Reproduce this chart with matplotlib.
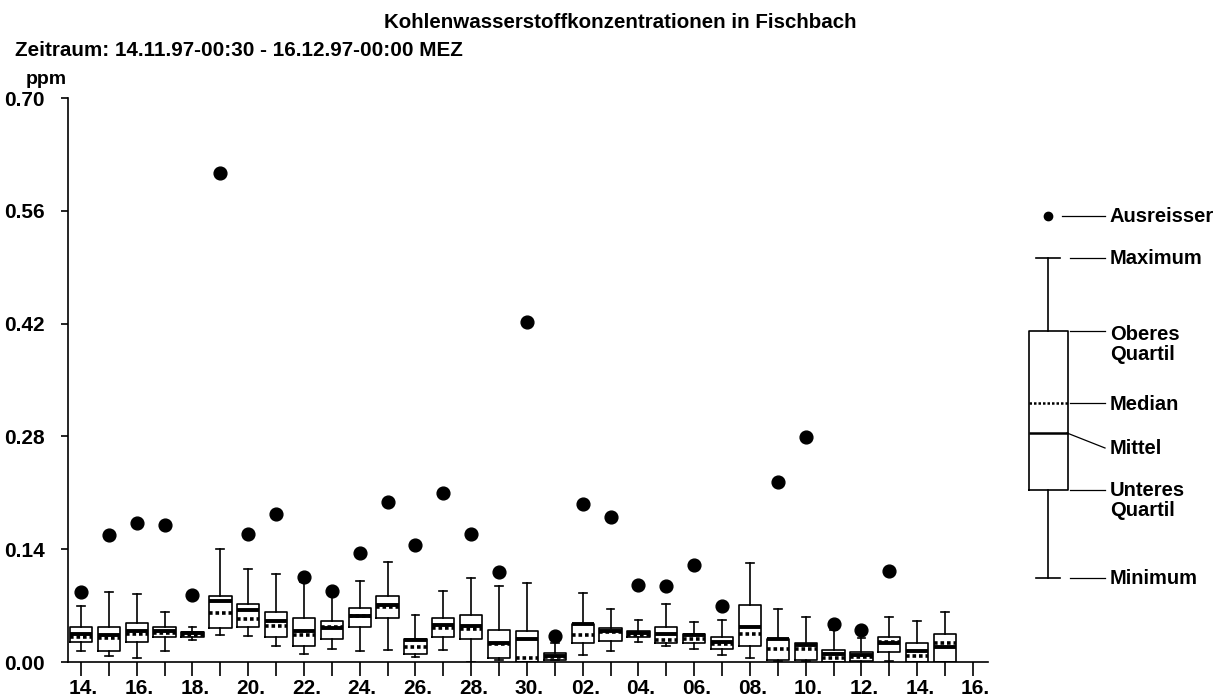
import matplotlib
matplotlib.use('Agg')
import matplotlib.pyplot as plt
from matplotlib.transforms import ScaledTranslation

plt.rcParams['font.family'] = ['Liberation Sans', 'DejaVu Sans']
plt.rcParams['font.weight'] = 'bold'

# daily statistics, 14.11.97 - 15.12.97 (ppm)
days = ['14', '15', '16', '17', '18', '19', '20', '21', '22', '23', '24', '25', '26', '27', '28', '29', '30',
        '01', '02', '03', '04', '05', '06', '07', '08', '09', '10', '11', '12', '13', '14', '15']
whishi = [0.070, 0.087, 0.085, 0.062, 0.044, 0.140, 0.116, 0.109, 0.099, 0.083, 0.1006, 0.1246, 0.058, 0.0878,
          0.104, 0.0944, 0.098, 0.023, 0.086, 0.066, 0.0526, 0.072, 0.050, 0.0526, 0.1234, 0.0654, 0.0563,
          0.0398, 0.030, 0.0563, 0.0513, 0.0625]
q3 = [0.0435, 0.0435, 0.048, 0.0435, 0.037, 0.0816, 0.0725, 0.0625, 0.054, 0.0505, 0.0667, 0.0824, 0.029, 0.054,
      0.0584, 0.040, 0.039, 0.0116, 0.0476, 0.0426, 0.039, 0.0435, 0.035, 0.0306, 0.0712, 0.0286, 0.024,
      0.0153, 0.0128, 0.0306, 0.024, 0.035]
q1 = [0.0248, 0.0137, 0.0245, 0.0315, 0.0315, 0.0426, 0.0435, 0.0315, 0.0195, 0.029, 0.0435, 0.0543, 0.010, 0.0306,
      0.028, 0.0046, 0.0, 0.003, 0.0236, 0.0265, 0.0306, 0.0236, 0.0232, 0.0158, 0.0195, 0.003, 0.003,
      0.0006, 0.001, 0.0128, 0.0006, 0.0]
whislo = [0.0137, 0.008, 0.0046, 0.0133, 0.0273, 0.033, 0.032, 0.0195, 0.0103, 0.016, 0.0137, 0.0153, 0.0058,
          0.0153, 0.0, 0.002, 0.0, 0.0025, 0.0083, 0.0137, 0.0248, 0.0195, 0.0158, 0.0083, 0.005, 0.001, 0.001,
          0.0, 0.0, 0.001, 0.0, 0.0]
mittel = [0.035, 0.034, 0.0385, 0.038, 0.036, 0.0754, 0.064, 0.0505, 0.039, 0.042, 0.0567, 0.0712, 0.0273, 0.0464,
          0.045, 0.024, 0.028, 0.0079, 0.047, 0.0385, 0.0363, 0.035, 0.034, 0.0253, 0.0435, 0.0286, 0.0215,
          0.010, 0.0087, 0.0236, 0.0137, 0.0186]
median = [0.031, 0.030, 0.035, 0.036, 0.034, 0.0605, 0.053, 0.045, 0.034, 0.044, 0.0575, 0.068, 0.018, 0.042,
          0.041, 0.0228, 0.0054, 0.0066, 0.0335, 0.037, 0.034, 0.027, 0.028, 0.0228, 0.035, 0.0158, 0.0166,
          0.0046, 0.0058, 0.0245, 0.0071, 0.0232]
ausreisser = [0.087, 0.158, 0.173, 0.170, 0.083, 0.607, 0.159, 0.184, 0.106, 0.0886, 0.135, 0.198, 0.145, 0.210,
              0.159, 0.112, 0.422, 0.032, 0.196, 0.180, 0.0957, 0.0944, 0.120, 0.070, None, 0.224, 0.2795,
              0.047, 0.040, 0.113, None, None]

xtick_labels = ['14.', '16.', '18.', '20.', '22.', '24.', '26.', '28.', '30.',
                '02.', '04.', '06.', '08.', '10.', '12.', '14.', '16.']
yticks = [0.0, 0.14, 0.28, 0.42, 0.56, 0.70]

stats = []
for i in range(len(days)):
    stats.append({
        'whislo': whislo[i], 'q1': q1[i], 'med': median[i], 'mean': mittel[i],
        'q3': q3[i], 'whishi': whishi[i],
        'fliers': [] if ausreisser[i] is None else [ausreisser[i]],
    })

W, H = 1223, 697
fig = plt.figure(figsize=(W / 100, H / 100), dpi=100)
ax = fig.add_axes([68 / W, 35 / H, 920 / W, 564 / H])

box_style = dict(
    widths=0.8, capwidths=0.28, showmeans=True, meanline=True, patch_artist=False,
    boxprops=dict(color='black', linewidth=1.2),
    whiskerprops=dict(color='black', linewidth=1.2),
    capprops=dict(color='black', linewidth=1.2),
    medianprops=dict(color='black', linewidth=2.6, linestyle=(0, (1.0, 0.8))),
    meanprops=dict(color='black', linewidth=2.8, linestyle='-'),
    flierprops=dict(marker='o', markerfacecolor='black', markeredgecolor='black', markersize=9.2),
)
ax.bxp(stats, positions=range(len(days)), **box_style)

ax.set_xlim(-0.466, 32.54)
ax.set_ylim(0, 0.70)
ax.spines['top'].set_visible(False)
ax.spines['right'].set_visible(False)
ax.spines['left'].set_linewidth(1.2)
ax.spines['bottom'].set_linewidth(1.2)

ax.set_xticks(range(len(days) + 1))
ax.set_xticklabels([xtick_labels[i // 2] if i % 2 == 0 else '' for i in range(len(days) + 1)])
ax.set_yticks(yticks)
ax.set_yticklabels(['%.2f' % v for v in yticks])
ax.tick_params(axis='x', direction='out', length=10, width=1.2, pad=2, labelsize=15)
ax.tick_params(axis='y', direction='out', length=5, width=1.2, pad=12, labelsize=15)
shift = ScaledTranslation(2.5 / 100, 0, fig.dpi_scale_trans)
for lab in ax.get_xticklabels():
    lab.set_fontweight('bold')
    lab.set_transform(lab.get_transform() + shift)
for lab in ax.get_yticklabels():
    lab.set_fontweight('bold')

fig.text(620 / W, 1 - 22 / H, 'Kohlenwasserstoffkonzentrationen in Fischbach',
         ha='center', va='center', fontsize=14.8, fontweight='bold')
fig.text(15 / W, 1 - 50 / H, 'Zeitraum: 14.11.97-00:30 - 16.12.97-00:00 MEZ',
         ha='left', va='center', fontsize=14.9, fontweight='bold')
fig.text(46 / W, 1 - 80 / H, 'ppm', ha='center', va='center', fontsize=14, fontweight='bold')

# explanation box on the right (pixel coordinates)
lg = fig.add_axes([1010 / W, (H - 610) / H, 213 / W, 420 / H])
lg.set_xlim(1010, 1223)
lg.set_ylim(610, 190)
lg.axis('off')
legend_stats = [{'whislo': 578, 'q1': 490, 'med': 403, 'mean': 433, 'q3': 331, 'whishi': 258, 'fliers': []}]
leg_style = dict(box_style)
leg_style.update(widths=39, capwidths=24)
leg_style['medianprops'] = dict(color='black', linewidth=1.8, linestyle=(0, (1.0, 0.8)))
leg_style['meanprops'] = dict(color='black', linewidth=1.8, linestyle='-')
lg.bxp(legend_stats, positions=[1048], **leg_style)
lg.plot([1048], [216], 'o', color='black', markersize=6)

connectors = [(1062, 216, 216), (1070, 258, 258), (1070, 331, 331), (1070, 403, 403),
              (1067, 433, 448), (1070, 490, 490), (1070, 578, 578)]
for x0, y0, y1 in connectors:
    lg.plot([x0, 1105], [y0, y1], color='black', linewidth=0.9)

legend_labels = [(216, 'Ausreisser'), (258, 'Maximum'), (334, 'Oberes'), (354, 'Quartil'),
                 (404, 'Median'), (448, 'Mittel'), (490, 'Unteres'), (511, 'Quartil'), (578, 'Minimum')]
for ty, txt in legend_labels:
    lg.text(1110, ty, txt, ha='left', va='center', fontsize=14.5, fontweight='bold')

fig.savefig('out.png', dpi=100)
plt.close(fig)
